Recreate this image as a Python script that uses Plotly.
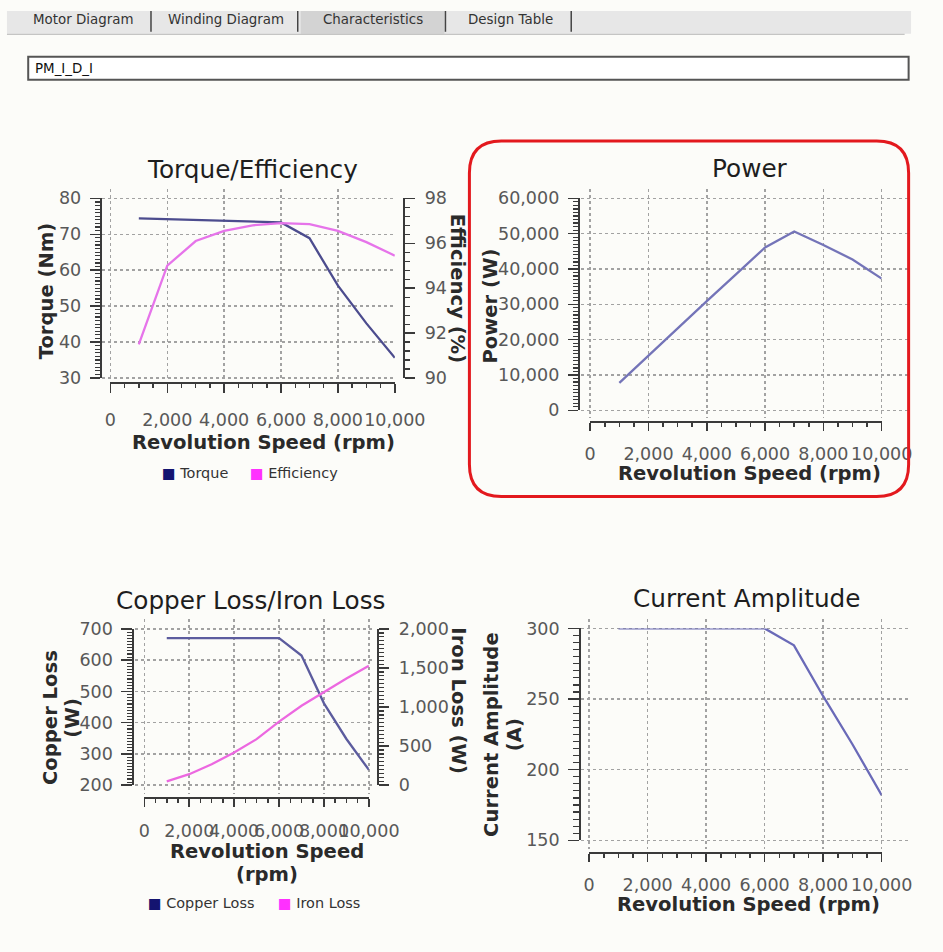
import plotly.graph_objects as go

PAGE_W, PAGE_H = 943, 952

# The photographed page shows page pixel p at picture pixel S*p + B; all
# positions below are given in picture pixels and converted back to page pixels.
SX, BX = 0.9625, 4.75
SY, BY = 0.9775, 10.25
FS = 2 / (SX + SY)

# ---------------- data ----------------
speed = [1000, 2000, 3000, 4000, 5000, 6000, 7000, 8000, 9000, 10000]
torque = [74.4, 74.2, 74.0, 73.8, 73.6, 73.3, 68.9, 55.7, 45.2, 35.6]
efficiency = [91.5, 95.0, 96.1, 96.55, 96.8, 96.9, 96.85, 96.55, 96.05, 95.45]
power = [7800, 15550, 23250, 30900, 38500, 46100, 50600, 46800, 42700, 37300]
copper_loss = [671, 671, 671, 671, 671, 671, 615, 462, 348, 249]
iron_loss = [50, 141, 269, 418, 590, 815, 1017, 1196, 1367, 1530]
current = [300, 300, 300, 300, 300, 300, 288, 252, 218, 182]

tab_labels = ["Motor Diagram", "Winding Diagram", "Characteristics", "Design Table"]
model_name = "PM_I_D_I"
panel_titles = ["Torque/Efficiency", "Power", "Copper Loss/Iron Loss", "Current Amplitude"]
x_title = "Revolution Speed (rpm)"

TMINX, TMAXX = BX + SX * 1, BX + SX * (PAGE_W - 1)
TMINY, TMAXY = BY + SY * 1, BY + SY * (PAGE_H - 1)


def clx(t):
    return min(max(t, TMINX), TMAXX)


def cly(t):
    return min(max(t, TMINY), TMAXY)


def fx(t):
    return min(max((t - BX) / SX / PAGE_W, 0.0), 1.0)


def fy(t):
    return min(max(1 - (t - BY) / SY / PAGE_H, 0.0), 1.0)


def lin(p, p0, p1, v0, v1):
    return v0 + (p - p0) * (v1 - v0) / (p1 - p0)


FONT = "DejaVu Sans"
AX = "#3a3a3a"
GRID = "#a2a2a2"
TICKF = dict(family=FONT, size=17 * FS, color="#585858")

panels = [
    dict(x0=109.3, x1=394.3, ybot=377.7, ytop=198.3, yr=(30, 80), ydt=10, ymn=1,
         left=100, xline=383, grid=(101, 395, 189, 381), xstand=12,
         y2=dict(r=(90, 98), dt=2, mn=0.4, line=403.3)),
    dict(x0=590, x1=882, ybot=410, ytop=198.3, yr=(0, 60000), ydt=10000, ymn=1000,
         left=579, xline=421.7, grid=(581, 911, 189, 418), xstand=8),
    dict(x0=143.3, x1=368.3, ybot=784.3, ytop=628.3, yr=(200, 700), ydt=100, ymn=10,
         left=131.7, xline=796.7, grid=(133.5, 372, 618, 793), xstand=9,
         y2=dict(r=(0, 2000), dt=500, mn=50, line=377.3)),
    dict(x0=589, x1=882, ybot=839.3, ytop=627.7, yr=(150, 300), ydt=50, ymn=5,
         left=579.3, xline=851.7, grid=(581, 911, 618, 848), xstand=8),
]

fig = go.Figure()
layout = {}

for i, p in enumerate(panels, start=1):
    g = "" if i == 1 else str(i)
    n = i + 4
    gl, gr, gt, gb = p["grid"]
    gr = clx(gr)
    layout["xaxis" + g] = dict(
        domain=[fx(gl), fx(gr)],
        range=[lin(gl, p["x0"], p["x1"], 0, 10000), lin(gr, p["x0"], p["x1"], 0, 10000)],
        anchor="y" + g, showgrid=True, gridcolor=GRID, griddash="dot", gridwidth=1.5,
        dtick=2000, tick0=0, showticklabels=False, ticks="", showline=False,
        zeroline=False, fixedrange=True)
    layout["yaxis" + g] = dict(
        domain=[fy(gb), fy(gt)],
        range=[lin(gb, p["ybot"], p["ytop"], *p["yr"]), lin(gt, p["ybot"], p["ytop"], *p["yr"])],
        anchor="x" + g, showgrid=True, gridcolor=GRID, griddash="dot", gridwidth=1.5,
        dtick=p["ydt"], tick0=p["yr"][0], showticklabels=False, ticks="",
        showline=False, zeroline=False, fixedrange=True)
    fig.add_trace(go.Scatter(x=[None], y=[None], xaxis="x" + g, yaxis="y" + g,
                             showlegend=False, hoverinfo="skip"))
    layout["xaxis%d" % n] = dict(
        domain=[fx(p["x0"]), fx(p["x1"])], range=[0, 10000], anchor="free",
        position=fy(p["xline"]), showline=True, linecolor=AX, linewidth=2,
        ticks="outside", ticklen=8 / SY, tickwidth=1.5, tickcolor=AX, dtick=2000, tick0=0,
        tickformat=",", tickangle=0, tickfont=TICKF,
        ticklabelstandoff=int(round(p["xstand"] / SY)),
        ticklabeloverflow="allow",
        showgrid=False, zeroline=False, fixedrange=True,
        minor=dict(dtick=500, tick0=0, ticks="outside", ticklen=4 / SY, tickwidth=1.5,
                   tickcolor=AX, showgrid=False))
    layout["yaxis%d" % n] = dict(
        domain=[fy(p["ybot"]), fy(p["ytop"])], range=list(p["yr"]), anchor="free",
        position=fx(p["left"]), showline=True, linecolor=AX, linewidth=2,
        ticks="outside", ticklen=10 / SX, tickwidth=1.5, tickcolor=AX, dtick=p["ydt"],
        tick0=p["yr"][0], tickformat=",", tickfont=TICKF, ticklabelstandoff=5,
        ticklabeloverflow="allow",
        showgrid=False, zeroline=False, fixedrange=True,
        minor=dict(dtick=p["ymn"], tick0=p["yr"][0], ticks="outside", ticklen=5 / SX,
                   tickwidth=1.2, tickcolor=AX, showgrid=False))
    if "y2" in p:
        q = p["y2"]
        layout["yaxis%d" % (8 + i)] = dict(
            overlaying="y%d" % n, side="right", anchor="free", position=fx(q["line"]),
            range=list(q["r"]), showline=True, linecolor=AX, linewidth=2,
            ticks="outside", ticklen=10 / SX, tickwidth=1.5, tickcolor=AX, dtick=q["dt"],
            tick0=q["r"][0], tickformat=",", tickfont=TICKF, ticklabelstandoff=6,
            ticklabeloverflow="allow",
            showgrid=False, zeroline=False, fixedrange=True,
            minor=dict(dtick=q["mn"], tick0=q["r"][0], ticks="outside", ticklen=5 / SX,
                       tickwidth=1.2, tickcolor=AX, showgrid=False))

C_TORQUE = "#4c4c8e"
C_EFF = "#e674ea"
C_POWER = "#7474b8"
C_COPPER = "#5c5c9e"
C_IRON = "#ec68e0"
C_CURR = "#6a6ab8"
LW = 2.3

fig.add_trace(go.Scatter(x=speed, y=torque, xaxis="x5", yaxis="y5", mode="lines",
                         line=dict(color=C_TORQUE, width=LW), name="Torque"))
fig.add_trace(go.Scatter(x=speed, y=efficiency, xaxis="x5", yaxis="y9", mode="lines",
                         line=dict(color=C_EFF, width=LW), name="Efficiency"))
fig.add_trace(go.Scatter(x=speed, y=power, xaxis="x6", yaxis="y6", mode="lines",
                         line=dict(color=C_POWER, width=LW), name="Power"))
fig.add_trace(go.Scatter(x=speed, y=copper_loss, xaxis="x7", yaxis="y7", mode="lines",
                         line=dict(color=C_COPPER, width=LW), name="Copper Loss"))
fig.add_trace(go.Scatter(x=speed, y=iron_loss, xaxis="x7", yaxis="y11", mode="lines",
                         line=dict(color=C_IRON, width=LW), name="Iron Loss"))
fig.add_trace(go.Scatter(x=speed, y=current, xaxis="x8", yaxis="y8", mode="lines",
                         line=dict(color=C_CURR, width=LW), name="Current Amplitude"))

ann = []


def text(t, x, y, size, color="#222", bold=False, angle=0, xanchor="center", family=FONT):
    if bold:
        t = "<b>" + t + "</b>"
    ann.append(dict(text=t, x=fx(x), y=fy(y), xref="paper", yref="paper",
                    showarrow=False, xanchor=xanchor, yanchor="middle", textangle=angle,
                    font=dict(family=family, size=size * FS, color=color)))


title_pos = [(251.7, 170), (750, 168.3), (250, 600), (746.7, 598.3)]
for t, (x, y) in zip(panel_titles, title_pos):
    text(t, x, y, 24, "#1e1e1e")

text(x_title, 262.5, 442.5, 19, "#2a2a2a", bold=True)
text(x_title, 750, 473.3, 19, "#2a2a2a", bold=True)
text("Revolution Speed", 266.7, 850, 19, "#2a2a2a", bold=True)
text("(rpm)", 266.7, 873.3, 19, "#2a2a2a", bold=True)
text(x_title, 748.3, 903.3, 19, "#2a2a2a", bold=True)

text("Torque (Nm)", 45, 291, 19, "#2a2a2a", bold=True, angle=-90)
text("Efficiency (%)", 457, 288, 19, "#2a2a2a", bold=True, angle=90)
text("Power (W)", 490, 306, 19, "#2a2a2a", bold=True, angle=-90)
text("Copper Loss", 50, 717, 19, "#2a2a2a", bold=True, angle=-90)
text("(W)", 71.7, 717, 19, "#2a2a2a", bold=True, angle=-90)
text("Iron Loss (W)", 458, 700, 19, "#2a2a2a", bold=True, angle=90)
text("Current Amplitude", 491.7, 734, 19, "#2a2a2a", bold=True, angle=-90)
text("(A)", 515, 734, 19, "#2a2a2a", bold=True, angle=-90)


def legend_item(label, color, x, y):
    text("<span style='color:%s'>■</span> %s" % (color, label), x, y, 14, "#333",
         xanchor="left")


legend_item("Torque", "#141470", 159, 473)
legend_item("Efficiency", "#ff30ff", 247, 473)
legend_item("Copper Loss", "#141470", 145, 902)
legend_item("Iron Loss", "#ff30ff", 275, 902)

tab_centers = [82, 225, 372, 510]
for t, c in zip(tab_labels, tab_centers):
    text(t, c, 20, 13, "#333")
text(model_name, 32, 68.5, 13, "#111", xanchor="left")

shapes = []


def rect(x0, y0, x1, y1, fill, line=None, lw=0, layer="below"):
    shapes.append(dict(type="rect", xref="paper", yref="paper",
                       x0=fx(clx(x0)), x1=fx(clx(x1)), y0=fy(cly(y1)), y1=fy(cly(y0)),
                       fillcolor=fill, layer=layer, line=dict(color=line or fill, width=lw)))


def vline(x, y0, y1, color, lw=1.5, layer="below"):
    shapes.append(dict(type="line", xref="paper", yref="paper", x0=fx(clx(x)), x1=fx(clx(x)),
                       y0=fy(cly(y0)), y1=fy(cly(y1)), line=dict(color=color, width=lw), layer=layer))


def hline(y, x0, x1, color, lw=1, layer="below"):
    shapes.append(dict(type="line", xref="paper", yref="paper", x0=fx(clx(x0)), x1=fx(clx(x1)),
                       y0=fy(cly(y)), y1=fy(cly(y)), line=dict(color=color, width=lw), layer=layer))


rect(0, 0, PAGE_W, 34, "#e7e7e7")
rect(300, 8, 444, 34, "#d3d3d3")
for sx in (150, 297, 445, 571):
    vline(sx, 9, 32, "#444", 1.5)
hline(34.5, 0, 905, "#b5b5b5", 1)
rect(27, 57, 909, 80, "#ffffff", "#555555", 2)

# red rounded frame around the Power chart
x0, y0, x1, y1, r = 469, 141, 909, 496, 32
pts = [
    ("M", [(x0 + r, y0)]), ("L", [(x1 - r, y0)]), ("Q", [(x1, y0), (x1, y0 + r)]),
    ("L", [(x1, y1 - r)]), ("Q", [(x1, y1), (x1 - r, y1)]), ("L", [(x0 + r, y1)]),
    ("Q", [(x0, y1), (x0, y1 - r)]), ("L", [(x0, y0 + r)]), ("Q", [(x0, y0), (x0 + r, y0)]),
]
path = " ".join(c + " " + " ".join("%.5f,%.5f" % (fx(a), fy(b)) for a, b in ps) for c, ps in pts) + " Z"
shapes.append(dict(type="path", path=path, xref="paper", yref="paper",
                   line=dict(color="#e3191e", width=3), layer="above"))

fig.update_layout(
    width=PAGE_W, height=PAGE_H, margin=dict(l=0, r=0, t=0, b=0),
    paper_bgcolor="#fcfcf9", plot_bgcolor="rgba(0,0,0,0)",
    showlegend=False, annotations=ann, shapes=shapes, hovermode=False, dragmode=False,
    font=dict(family=FONT), **layout)

POST = ("document.body.style.margin='0';"
        "document.body.style.overflow='hidden';"
        "document.documentElement.style.overflow='hidden';")

fig.write_html("out.html", config={"displayModeBar": False, "staticPlot": True},
               post_script=POST)
